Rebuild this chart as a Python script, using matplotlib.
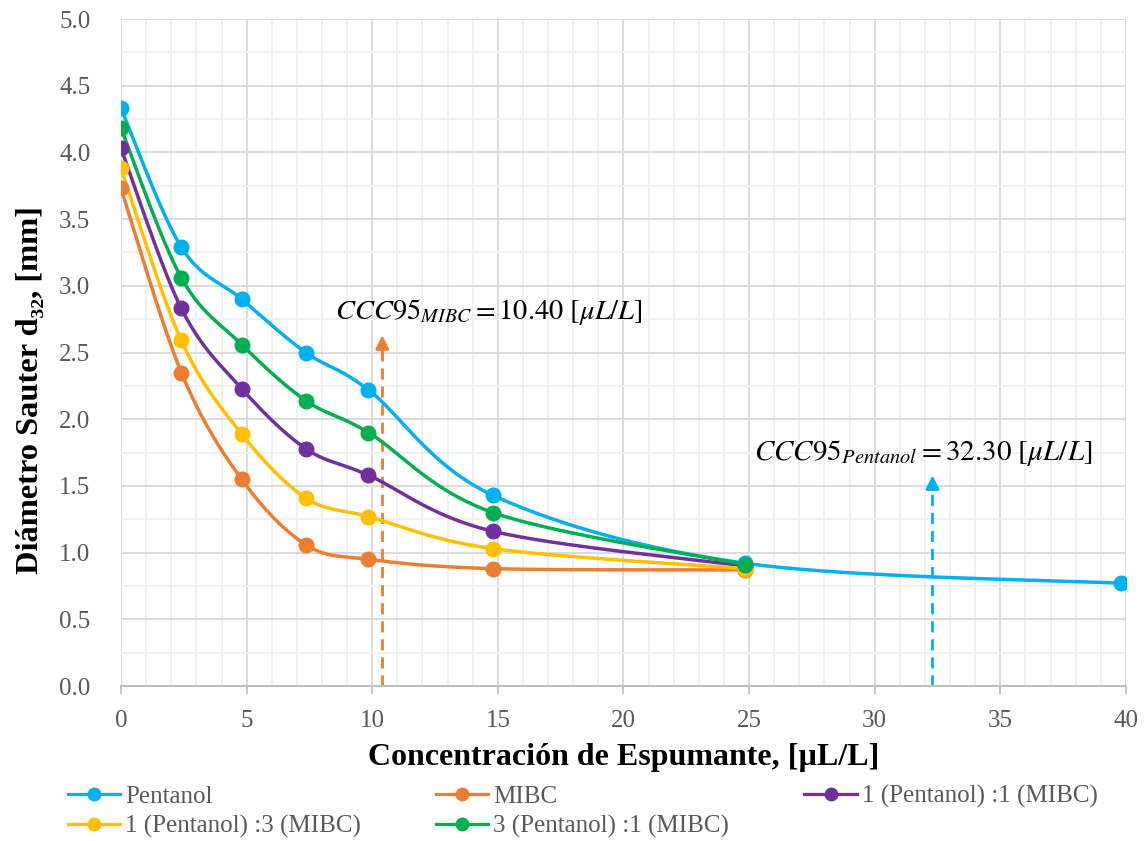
import numpy as np
import matplotlib
matplotlib.use("Agg")
import matplotlib.pyplot as plt
from matplotlib.lines import Line2D
from matplotlib.ticker import MultipleLocator, FormatStrFormatter

plt.rcParams['font.family'] = ['Liberation Serif', 'DejaVu Serif']
plt.rcParams['mathtext.fontset'] = 'stix'

# data
conc = [0, 2.4, 4.8, 7.35, 9.85, 14.8, 24.85]
conc_pentanol = [0, 2.4, 4.8, 7.35, 9.85, 14.8, 24.85, 39.8]

pentanol = [4.33, 3.29, 2.90, 2.50, 2.22, 1.43, 0.92, 0.77]
mibc = [3.73, 2.35, 1.55, 1.06, 0.95, 0.88, 0.87]
mix_1_1 = [4.03, 2.83, 2.23, 1.78, 1.58, 1.16, 0.90]
mix_1_3 = [3.88, 2.59, 1.89, 1.41, 1.27, 1.03, 0.88]
mix_3_1 = [4.18, 3.06, 2.56, 2.14, 1.90, 1.30, 0.91]

labels = ['Pentanol', 'MIBC', '1 (Pentanol) :1 (MIBC)',
          '1 (Pentanol) :3 (MIBC)', '3 (Pentanol) :1 (MIBC)']
colors = ['#00b0f0', '#ed7d31', '#7030a0', '#ffc000', '#00b050']

ccc_mibc = 10.40
ccc_pentanol = 32.30


def smooth(x, y, n=40):
    # excel-like smoothed line (catmull-rom as cubic bezier)
    p = np.column_stack([x, y]).astype(float)
    p_ext = np.vstack([p[0], p, p[-1]])
    t = np.linspace(0, 1, n)[:, None]
    out = []
    for i in range(1, len(p_ext) - 2):
        p0, p1, p2, p3 = p_ext[i - 1], p_ext[i], p_ext[i + 1], p_ext[i + 2]
        c1 = p1 + (p2 - p0) / 6
        c2 = p2 - (p3 - p1) / 6
        seg = ((1 - t) ** 3) * p1 + 3 * ((1 - t) ** 2) * t * c1 + 3 * (1 - t) * t ** 2 * c2 + t ** 3 * p2
        out.append(seg)
    out = np.vstack(out)
    return out[:, 0], out[:, 1]


fig, ax = plt.subplots(figsize=(11.46, 8.41), dpi=100)
fig.subplots_adjust(left=0.1056, right=0.9825, top=0.9774, bottom=0.1843)

series = [(conc_pentanol, pentanol), (conc, mibc), (conc, mix_1_1), (conc, mix_1_3), (conc, mix_3_1)]
handles = []
for (xs, ys), lab, c in zip(series, labels, colors):
    sx, sy = smooth(xs, ys)
    ax.plot(sx, sy, color=c, lw=2.5, solid_capstyle='round', zorder=3)
    ax.plot(xs, ys, 'o', color=c, ms=10.5, zorder=4)
    handles.append(Line2D([], [], color=c, lw=2.3, marker='o', ms=9, label=lab))

# CCC95 arrows
for xv, top, c in [(ccc_mibc, 2.65, '#ed7d31'), (ccc_pentanol, 1.60, '#00b0f0')]:
    ax.plot([xv, xv], [0, top - 0.08], color=c, lw=2, ls=(0, (4, 2.5)), zorder=2)
    ax.annotate('', xy=(xv, top), xytext=(xv, top - 0.1),
                arrowprops=dict(arrowstyle='-|>', color=c, lw=2, mutation_scale=20), zorder=2)

ax.text(8.5, 2.80, r'$CCC95_{MIBC} = 10.40\ [\mu L/L]$', fontsize=20.5, va='center', ha='left')
ax.text(25.2, 1.75, r'$CCC95_{Pentanol} = 32.30\ [\mu L/L]$', fontsize=21, va='center', ha='left')

ax.set_xlim(0, 40)
ax.set_ylim(0, 5)
ax.xaxis.set_major_locator(MultipleLocator(5))
ax.xaxis.set_minor_locator(MultipleLocator(1))
ax.yaxis.set_major_locator(MultipleLocator(0.5))
ax.yaxis.set_minor_locator(MultipleLocator(0.25))
ax.yaxis.set_major_formatter(FormatStrFormatter('%.1f'))

ax.grid(which='major', color='#d9d9d9', lw=1.3, zorder=0)
ax.grid(which='minor', color='#f0f0f0', lw=1.3, zorder=0)
ax.set_axisbelow(True)
for s in ['top', 'right', 'left']:
    ax.spines[s].set_visible(False)
ax.spines['bottom'].set_color('#bfbfbf')
ax.spines['bottom'].set_linewidth(1.5)

ax.tick_params(axis='x', which='major', length=6, color='#bfbfbf', width=1.3, pad=11,
               labelsize=18, labelcolor='#595959')
ax.tick_params(axis='x', which='minor', length=0)
ax.tick_params(axis='y', which='both', length=0, pad=22, labelsize=18, labelcolor='#595959')

ax.set_xlabel('Concentración de Espumante, [µL/L]', fontsize=23, fontweight='bold', labelpad=8)
ax.set_ylabel('Diámetro Sauter d₃₂, [mm]', fontsize=23.3, fontweight='bold')
ax.yaxis.set_label_coords(-0.0755, 0.444)

order = [0, 3, 1, 4, 2]
leg = fig.legend([handles[i] for i in order], [labels[i] for i in order],
                 loc='lower left', bbox_to_anchor=(0.059, 0.003), ncol=3, frameon=False,
                 fontsize=18, handlelength=2.1, handletextpad=0.2, columnspacing=3.0,
                 labelspacing=0.3, borderpad=0, borderaxespad=0)
for t in leg.get_texts():
    t.set_color('#595959')

fig.savefig('out.png', dpi=100)
